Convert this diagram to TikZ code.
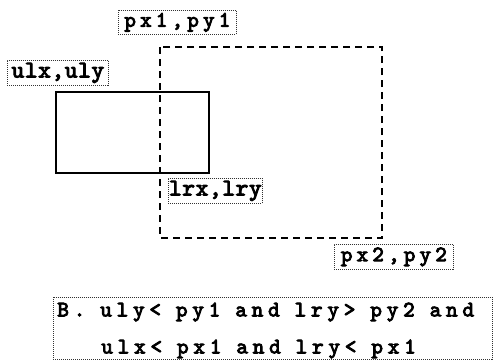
\documentclass[tikz,border=0pt]{standalone}
\usepackage{fontspec}
\newfontfamily\monopx[FakeBold=4,LetterSpace=19]{lmmono10-regular.otf}
\newfontfamily\monolr[FakeBold=4,LetterSpace=3]{lmmono10-regular.otf}
\newfontfamily\monocond[FakeBold=4,LetterSpace=22]{lmmono10-regular.otf}
\newcommand\wgap{\hspace{15pt}}
\begin{document}
\begin{tikzpicture}[x=1pt,y=-1pt,
  lbl/.style={draw=black!80, line width=0.7pt, dash pattern=on 1pt off 1pt, inner sep=0pt, anchor=north west},
  pxlbl/.style={lbl, font=\monopx\fontsize{22}{22}\selectfont},
  lrlbl/.style={lbl, font=\monolr\fontsize{24}{24}\selectfont},
  cond/.style={lbl, align=left, inner xsep=4pt, inner ysep=0pt, text width=431pt,
    font=\monocond\fontsize{22}{37}\selectfont},
  solidbox/.style={draw, line width=1.5pt},
  dashbox/.style={draw, line width=1.8pt, dash pattern=on 7pt off 5pt}
]
\useasboundingbox (0,0) rectangle (493,364);
\draw[solidbox] (56,92) rectangle (209,173);
\draw[dashbox] (160,47) rectangle (382,238);
\node[pxlbl, minimum width=118pt, minimum height=24pt] (p1) at (118,10) {px1,py1};
\node[lrlbl, minimum width=101pt, minimum height=25pt] (ul) at (7,60) {ulx,uly};
\node[lrlbl, minimum width=94pt, minimum height=25pt] (lr) at (168,178) {lrx,lry};
\node[pxlbl, minimum width=119pt, minimum height=25pt] (p2) at (334,244) {px2,py2};
\node[cond] (c) at (53,297) {\rule{0pt}{19pt}B.\wgap uly<\wgap py1\wgap and\wgap lry>\wgap py2\wgap and\\\hspace*{44pt}ulx<\wgap px1\wgap and\wgap lry<\wgap px1\rule[-6pt]{0pt}{6pt}};
\end{tikzpicture}
\end{document}
